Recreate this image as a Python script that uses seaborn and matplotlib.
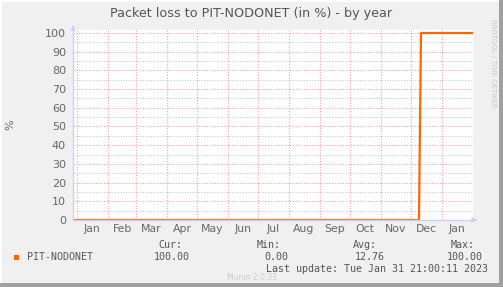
import matplotlib
matplotlib.use("Agg")
import matplotlib.pyplot as plt
import matplotlib.dates as mdates
import seaborn as sns
import pandas as pd
from matplotlib.patches import Rectangle

# ---- data ----
dates = ["2021-12-28 00:00", "2022-12-09 00:00", "2022-12-11 00:00", "2023-01-31 21:00"]
loss = [0, 0, 100, 100]
month_labels = ["Jan", "Feb", "Mar", "Apr", "May", "Jun", "Jul", "Aug",
                "Sep", "Oct", "Nov", "Dec", "Jan"]
series_name = "PIT-NODONET"
stats_head = ["Cur:", "Min:", "Avg:", "Max:"]
stats_vals = ["100.00", "0.00", "12.76", "100.00"]

df = pd.DataFrame({"date": pd.to_datetime(dates, format="%Y-%m-%d %H:%M"), "loss": loss})

sns.set_style("white")
plt.rcParams['font.family'] = ['DejaVu Sans']

W, H = 503, 287
fig = plt.figure(figsize=(W / 100, H / 100), dpi=100)
fig.patch.set_facecolor("#F0F0F0")

# frame
fig.add_artist(Rectangle((0, 0), 1, 1, transform=fig.transFigure, fill=False,
                         edgecolor="#FFFFFF", lw=2))
fig.add_artist(Rectangle((1 - 4 / W, 0), 4 / W, 1, transform=fig.transFigure,
                         facecolor="#A0A0A0", edgecolor="none"))
fig.add_artist(Rectangle((0, 0), 1, 4 / H, transform=fig.transFigure,
                         facecolor="#A0A0A0", edgecolor="none"))

L, R, T, B = 73, 473, 30, 220
ax = fig.add_axes([L / W, 1 - B / H, (R - L) / W, (B - T) / H])
ax.set_facecolor("white")

orange = "#FF6600"
sns.lineplot(data=df, x="date", y="loss", ax=ax, color=orange, lw=1.6,
             legend=False)

x0 = pd.Timestamp("2021-12-28")
x1 = pd.Timestamp("2023-02-01")
ax.set_xlim(x0, x1)
ax.set_ylim(0, 101.6)

# grids
ax.set_yticks(range(0, 101, 10))
ax.set_yticks(range(5, 101, 10), minor=True)
ax.xaxis.set_major_locator(mdates.MonthLocator())
ax.xaxis.set_major_formatter(plt.NullFormatter())
ax.xaxis.set_minor_locator(mdates.MonthLocator(bymonthday=16))
ax.xaxis.set_minor_formatter(mdates.DateFormatter("%b"))

ax.grid(True, which="major", axis="both", color="#F2A0A0", ls=(0, (1, 1.5)), lw=0.8)
ax.grid(True, which="minor", axis="y", color="#C8C8C8", ls=(0, (1, 1.5)), lw=0.8)
ax.set_axisbelow(True)

for s in ["top", "right"]:
    ax.spines[s].set_visible(False)
for s in ["left", "bottom"]:
    ax.spines[s].set_color("#D0D0FF")
    ax.spines[s].set_linewidth(1)

ax.tick_params(axis="y", which="major", colors="#D0D0FF", labelcolor="#666666",
               labelsize=8, length=3, direction="out", pad=2)
ax.tick_params(axis="y", which="minor", colors="#D0D0FF", length=2)
ax.tick_params(axis="x", which="major", colors="#D0D0FF", length=2, labelbottom=False)
ax.tick_params(axis="x", which="minor", length=0, labelcolor="#666666",
               labelsize=7.8, pad=3)
ax.set_xlabel("")
ax.set_ylabel("%", color="#666666", fontsize=8)
ax.yaxis.set_label_coords(-(L - 15) / (R - L), 0.5)

# axis arrows
ax.annotate("", xy=(0, 1.04), xytext=(0, 1.0), xycoords="axes fraction",
            arrowprops=dict(arrowstyle="-|>", color="#D0D0FF", lw=1,
                            mutation_scale=7), annotation_clip=False)
ax.annotate("", xy=(1.018, 0), xytext=(1.0, 0), xycoords="axes fraction",
            arrowprops=dict(arrowstyle="-|>", color="#D0D0FF", lw=1,
                            mutation_scale=7), annotation_clip=False)

def fx(px):
    return px / W

def fy(py):
    return 1 - py / H

fig.text(fx(251), fy(13), "Packet loss to PIT-NODONET (in %) - by year",
         ha="center", va="center", fontsize=9.2, color="#555555")
fig.text(fx(493), fy(19), "RRDTOOL / TOBI OETIKER", rotation=270,
         ha="center", va="top", fontsize=5, color="#C8C8C8")

mono = "DejaVu Sans Mono"
fs = 7.2
head_x = [182, 281, 377, 475]
val_x = [190, 288, 385, 483]
for x, t in zip(head_x, stats_head):
    fig.text(fx(x), fy(245), t, ha="right", va="center", family=mono,
             fontsize=fs, color="#555555")
for x, t in zip(val_x, stats_vals):
    fig.text(fx(x), fy(257), t, ha="right", va="center", family=mono,
             fontsize=fs, color="#555555")
fig.add_artist(Rectangle((fx(14), fy(260)), 5 / W, 5 / H, transform=fig.transFigure,
                         facecolor=orange, edgecolor="none"))
fig.text(fx(27), fy(257), series_name, ha="left", va="center", family=mono,
         fontsize=fs, color="#555555")
fig.text(fx(488), fy(269), "Last update: Tue Jan 31 21:00:11 2023", ha="right",
         va="center", family=mono, fontsize=fs, color="#555555")
fig.text(fx(252), fy(277), "Munin 2.0.33", ha="center", va="center",
         fontsize=5.5, color="#CCCCCC")

fig.savefig("out.png", dpi=100, facecolor=fig.get_facecolor())
